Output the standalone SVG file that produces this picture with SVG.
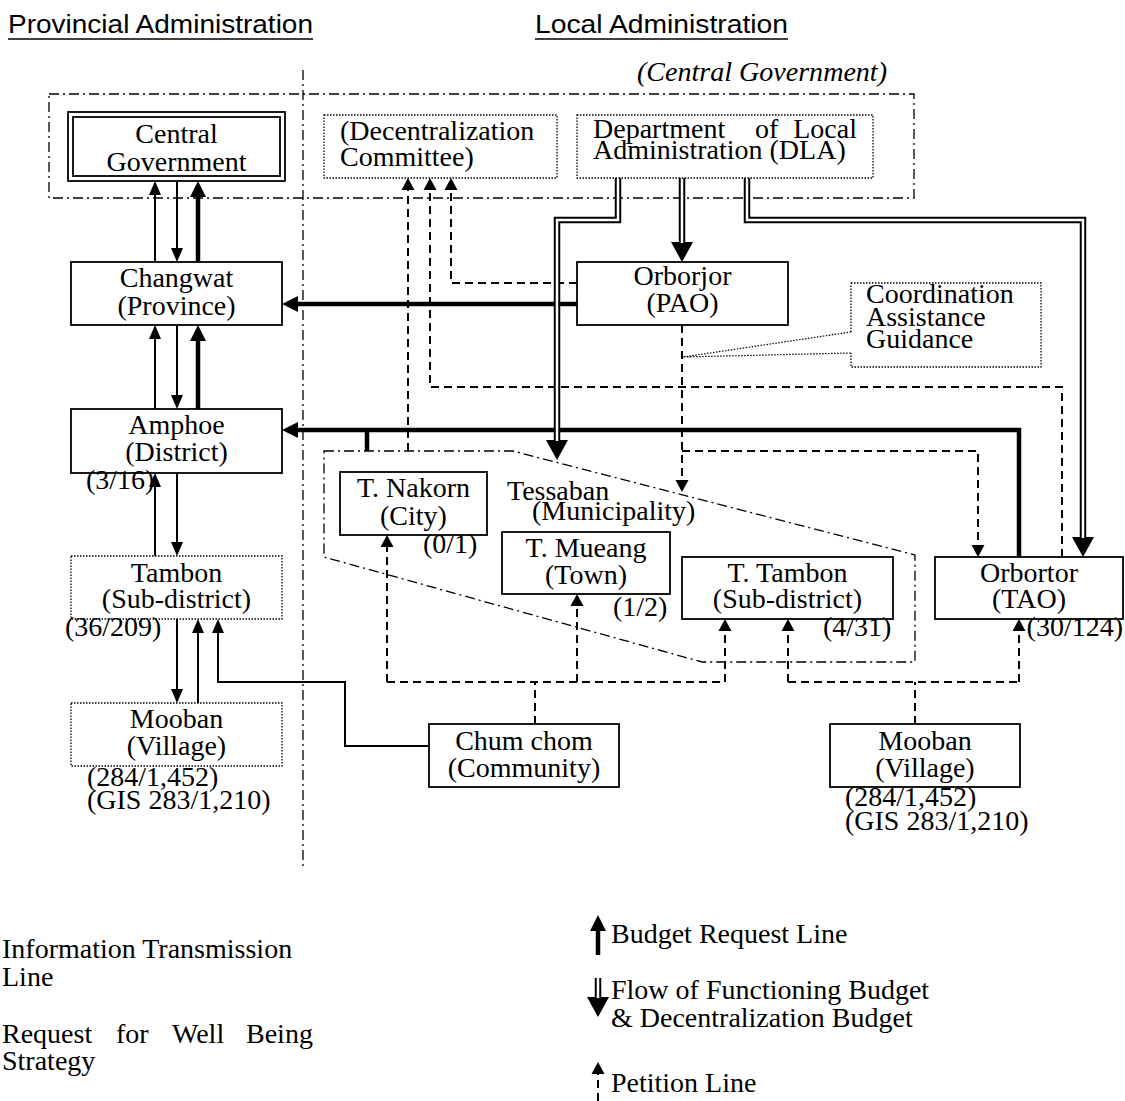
<svg xmlns="http://www.w3.org/2000/svg" width="1125" height="1101" viewBox="0 0 1125 1101">
<style>
.t{font-family:"Liberation Serif","Times New Roman",serif;font-size:28px;fill:#000}
.it{font-style:italic}
.h{font-family:"Liberation Sans",Arial,sans-serif;font-size:26px;fill:#000}
.box{fill:#fff;stroke:#000;stroke-width:1.8}
.dot{fill:#fff;stroke:#000;stroke-width:1.3;stroke-dasharray:1.5 1.5}
.thin{stroke:#000;stroke-width:2;fill:none}
.thick{stroke:#000;stroke-width:4.5;fill:none}
.dash{stroke:#000;stroke-width:2;fill:none;stroke-dasharray:8 5}
.dd{stroke:#000;stroke-width:1.3;fill:none;stroke-dasharray:10 4 2 4}
.dblb{stroke:#000;stroke-width:6.5;fill:none}
.dblw{stroke:#fff;stroke-width:2.5;fill:none}
.ptr{stroke:#000;stroke-width:1.2;fill:none;stroke-dasharray:1.5 1.5}
</style>
<defs>
<marker id="aThin" markerUnits="userSpaceOnUse" markerWidth="20" markerHeight="20" refX="0" refY="0" orient="auto" overflow="visible"><path d="M0,-6 L14,0 L0,6 z" fill="#000"/></marker>
<marker id="aThick" markerUnits="userSpaceOnUse" markerWidth="20" markerHeight="20" refX="0" refY="0" orient="auto" overflow="visible"><path d="M0,-8 L16,0 L0,8 z" fill="#000"/></marker>
<marker id="aDash" markerUnits="userSpaceOnUse" markerWidth="20" markerHeight="20" refX="0" refY="0" orient="auto" overflow="visible"><path d="M0,-6.5 L12,0 L0,6.5 z" fill="#000"/></marker>
<marker id="aDbl" markerUnits="userSpaceOnUse" markerWidth="30" markerHeight="30" refX="0" refY="0" orient="auto" overflow="visible"><path d="M0,-11 L20,0 L0,11 z" fill="#000"/></marker>
</defs>
<rect width="1125" height="1101" fill="#fff"/>

<g id="headings">
<text class="h" x="8" y="33" textLength="305" lengthAdjust="spacingAndGlyphs">Provincial Administration</text>
<line x1="8" y1="39" x2="313" y2="39" stroke="#000" stroke-width="1.6"/>
<text class="h" x="535" y="33" textLength="253" lengthAdjust="spacingAndGlyphs">Local Administration</text>
<line x1="535" y1="39" x2="788" y2="39" stroke="#000" stroke-width="1.6"/>
<text class="t it" x="637" y="81" textLength="250" lengthAdjust="spacingAndGlyphs">(Central Government)</text>
</g>

<g id="frames">
<line class="dd" x1="303" y1="70" x2="303" y2="870"/>
<rect class="dd" x="49" y="94" width="865" height="104"/>
</g>

<g id="connectors">
<path class="thin" d="M155,262 V195" marker-end="url(#aThin)"/>
<path class="thin" d="M177,181 V248" marker-end="url(#aThin)"/>
<path class="thick" d="M198,262 V197" marker-end="url(#aThick)"/>
<path class="thin" d="M155,409 V339" marker-end="url(#aThin)"/>
<path class="thin" d="M177,325 V395" marker-end="url(#aThin)"/>
<path class="thick" d="M198,409 V341" marker-end="url(#aThick)"/>
<path class="thin" d="M155,556 V487" marker-end="url(#aThin)"/>
<path class="thin" d="M177,473 V542" marker-end="url(#aThin)"/>
<path class="thin" d="M177,619 V689" marker-end="url(#aThin)"/>
<path class="thin" d="M198,703 V633" marker-end="url(#aThin)"/>
<path class="thin" d="M429,746 H345 V682 H218 V633" marker-end="url(#aThin)"/>
<path class="dash" d="M408,451 V190" marker-end="url(#aDash)"/>
<path class="dash" d="M1062,557 V387 H430 V190" marker-end="url(#aDash)"/>
<path class="dash" d="M577,283 H451 V190" marker-end="url(#aDash)"/>
<path class="dash" d="M682,325 V480" marker-end="url(#aDash)"/>
<path class="dash" d="M682,451 H978 V545" marker-end="url(#aDash)"/>
<path class="dash" d="M535,724 V682"/>
<path class="dash" d="M387,682 H725"/>
<path class="dash" d="M387,682 V547" marker-end="url(#aDash)"/>
<path class="dash" d="M577,682 V606" marker-end="url(#aDash)"/>
<path class="dash" d="M725,682 V631" marker-end="url(#aDash)"/>
<path class="dash" d="M915,724 V682"/>
<path class="dash" d="M788,682 H1019"/>
<path class="dash" d="M788,682 V631" marker-end="url(#aDash)"/>
<path class="dash" d="M1019,682 V631" marker-end="url(#aDash)"/>
<path class="thick" d="M577,304 H298" marker-end="url(#aThick)"/>
<path class="thick" d="M1019,557 V430 H298" marker-end="url(#aThick)"/>
<path class="thick" d="M367,451 V430"/>
<path class="dblb" d="M618,178 V220 H557 V440" marker-end="url(#aDbl)"/>
<path class="dblw" d="M618,176 V220 H557 V441"/>
<path class="dblb" d="M682,178 V242" marker-end="url(#aDbl)"/>
<path class="dblw" d="M682,176 V243"/>
<path class="dblb" d="M747,178 V220 H1083 V537" marker-end="url(#aDbl)"/>
<path class="dblw" d="M747,176 V220 H1083 V538"/>
<path class="ptr" d="M851,332 L683,357 L851,353"/>
</g>

<g id="n-central">
<rect class="box" x="68" y="112" width="217" height="69" stroke-width="2"/>
<rect class="box" x="73" y="117" width="207" height="59" stroke-width="2"/>
<text class="t" x="176.5" y="143" text-anchor="middle">Central</text>
<text class="t" x="176.5" y="171" text-anchor="middle">Government</text>
</g>
<g id="n-committee">
<rect class="dot" x="324" y="115" width="233" height="63"/>
<text class="t" x="340" y="140">(Decentralization</text>
<text class="t" x="340" y="166">Committee)</text>
</g>
<g id="n-dla">
<rect class="dot" x="577" y="115" width="296" height="63"/>
<text class="t" y="138"><tspan x="593">Department</tspan><tspan x="755">of</tspan><tspan x="857" text-anchor="end">Local</tspan></text>
<text class="t" x="593" y="159">Administration (DLA)</text>
</g>
<g id="n-changwat">
<rect class="box" x="71" y="262" width="211" height="63"/>
<text class="t" x="176.5" y="287" text-anchor="middle">Changwat</text>
<text class="t" x="176.5" y="315" text-anchor="middle">(Province)</text>
</g>
<g id="n-pao">
<rect class="box" x="577" y="262" width="211" height="63"/>
<text class="t" x="682.5" y="285" text-anchor="middle">Orborjor</text>
<text class="t" x="682.5" y="312" text-anchor="middle">(PAO)</text>
</g>
<g id="n-coord">
<path class="dot" d="M851,283 H1041 V367 H851 V353 M851,332 V283"/>
<text class="t" x="866" y="303">Coordination</text>
<text class="t" x="866" y="326">Assistance</text>
<text class="t" x="866" y="348">Guidance</text>
</g>
<g id="n-amphoe">
<rect class="box" x="71" y="409" width="211" height="64"/>
<text class="t" x="176.5" y="434" text-anchor="middle">Amphoe</text>
<text class="t" x="176.5" y="461" text-anchor="middle">(District)</text>
<text class="t" x="86" y="489">(3/16)</text>
</g>
<g id="n-tambon">
<rect class="dot" x="71" y="556" width="211" height="63"/>
<text class="t" x="176.5" y="582" text-anchor="middle">Tambon</text>
<text class="t" x="176.5" y="608" text-anchor="middle">(Sub-district)</text>
<text class="t" x="65" y="636">(36/209)</text>
</g>
<g id="n-mooban-l">
<rect class="dot" x="71" y="703" width="211" height="63"/>
<text class="t" x="176.5" y="728" text-anchor="middle">Mooban</text>
<text class="t" x="176.5" y="755" text-anchor="middle">(Village)</text>
<text class="t" x="87" y="786">(284/1,452)</text>
<text class="t" x="87" y="809">(GIS 283/1,210)</text>
</g>
<g id="n-tessaban">
<path class="dd" d="M324,451 H513 L915,555 V662 H702 L324,557 Z"/>
<text class="t" x="507" y="500">Tessaban</text>
<text class="t" x="532" y="520">(Municipality)</text>
</g>
<g id="n-nakorn">
<rect class="box" x="340" y="472" width="147" height="63"/>
<text class="t" x="413.5" y="497" text-anchor="middle">T. Nakorn</text>
<text class="t" x="413.5" y="525" text-anchor="middle">(City)</text>
<text class="t" x="423" y="553">(0/1)</text>
</g>
<g id="n-mueang">
<rect class="box" x="502" y="532" width="168" height="62"/>
<text class="t" x="586" y="557" text-anchor="middle">T. Mueang</text>
<text class="t" x="586" y="584" text-anchor="middle">(Town)</text>
<text class="t" x="613" y="616">(1/2)</text>
</g>
<g id="n-ttambon">
<rect class="box" x="682" y="557" width="211" height="62"/>
<text class="t" x="787.5" y="582" text-anchor="middle">T. Tambon</text>
<text class="t" x="787.5" y="608" text-anchor="middle">(Sub-district)</text>
<text class="t" x="823" y="636">(4/31)</text>
</g>
<g id="n-orbortor">
<rect class="box" x="935" y="557" width="188" height="62"/>
<text class="t" x="1029" y="582" text-anchor="middle">Orbortor</text>
<text class="t" x="1029" y="608" text-anchor="middle">(TAO)</text>
<text class="t" x="1123" y="636" text-anchor="end">(30/124)</text>
</g>
<g id="n-chumchom">
<rect class="box" x="429" y="724" width="190" height="63"/>
<text class="t" x="524" y="750" text-anchor="middle">Chum chom</text>
<text class="t" x="524" y="777" text-anchor="middle">(Community)</text>
</g>
<g id="n-mooban-r">
<rect class="box" x="830" y="724" width="190" height="63"/>
<text class="t" x="925" y="750" text-anchor="middle">Mooban</text>
<text class="t" x="925" y="777" text-anchor="middle">(Village)</text>
<text class="t" x="845" y="806">(284/1,452)</text>
<text class="t" x="845" y="830">(GIS 283/1,210)</text>
</g>

<g id="legend">
<text class="t" x="2" y="958">Information Transmission</text>
<text class="t" x="2" y="986">Line</text>
<text class="t" y="1043"><tspan x="2">Request</tspan><tspan x="116">for</tspan><tspan x="172">Well</tspan><tspan x="246">Being</tspan></text>
<text class="t" x="2" y="1070">Strategy</text>
<path class="thick" d="M598,955 V931" marker-end="url(#aThick)"/>
<text class="t" x="611" y="943">Budget Request Line</text>
<path class="dblb" d="M598,978 V997" marker-end="url(#aDbl)" stroke-width="6"/>
<path class="dblw" d="M598,976 V998" stroke-width="2"/>
<text class="t" x="611" y="999">Flow of Functioning Budget</text>
<text class="t" x="611" y="1027">&amp; Decentralization Budget</text>
<path class="dash" d="M598,1101 V1074" marker-end="url(#aDash)"/>
<text class="t" x="611" y="1092">Petition Line</text>
</g>
</svg>
